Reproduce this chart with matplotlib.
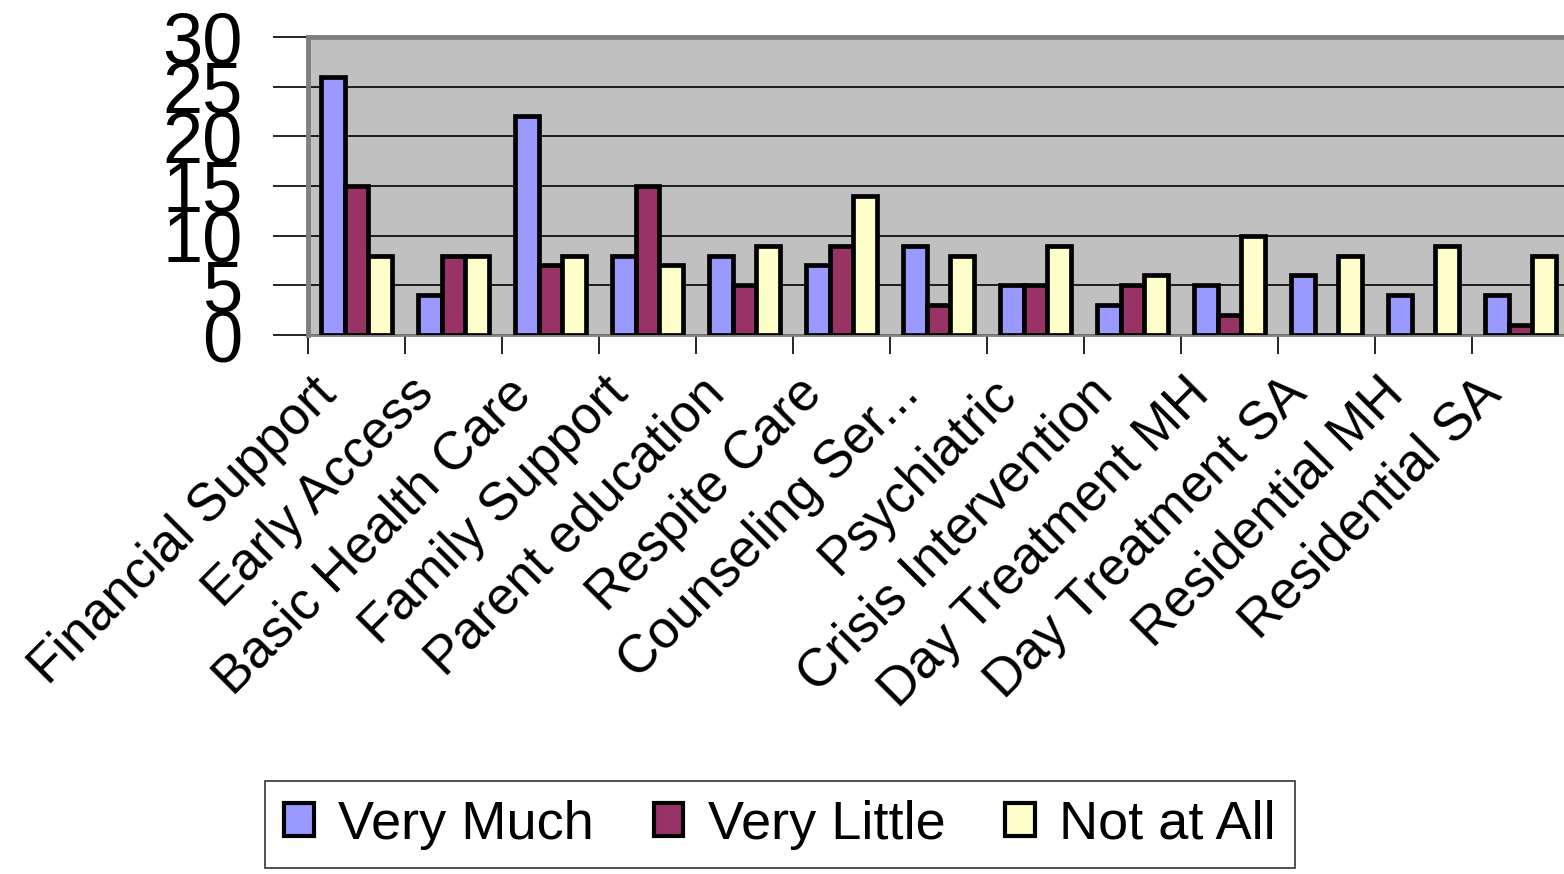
import numpy as np
import matplotlib
matplotlib.use("Agg")
import matplotlib.pyplot as plt
from matplotlib.transforms import ScaledTranslation

plt.rcParams['font.family'] = ['Liberation Sans', 'DejaVu Sans']

categories = ["Financial Support", "Early Access", "Basic Health Care", "Family Support",
              "Parent education", "Respite Care", "Counseling Ser...", "Psychiatric",
              "Crisis Intervention", "Day Treatment MH", "Day Treatment SA",
              "Residential MH", "Residential SA"]
very_much = [26, 4, 22, 8, 8, 7, 9, 5, 3, 5, 6, 4, 4]
very_little = [15, 8, 7, 15, 5, 9, 3, 5, 5, 2, 0, 0, 1]
not_at_all = [8, 8, 8, 7, 9, 14, 8, 9, 6, 10, 8, 9, 8]
yticks = [0, 5, 10, 15, 20, 25, 30]

series = [("Very Much", very_much, '#9999FF'),
          ("Very Little", very_little, '#993366'),
          ("Not at All", not_at_all, '#FFFFCC')]

fig = plt.figure(figsize=(15.64, 8.74), dpi=100)
ax = fig.add_axes([308/1564, 1 - 335/874, 1261/1564, 298/874])
ax.set_facecolor('#C0C0C0')

x = np.arange(len(categories))
w = 0.247
for i, (name, vals, col) in enumerate(series):
    ax.bar(x + (i - 1)*w, vals, w, color=col, edgecolor='black', linewidth=3.4,
           label=name, zorder=3)

ax.set_xlim(-0.5, len(categories) - 0.5)
ax.set_ylim(0, 30)
ax.set_yticks(yticks)
ax.set_yticklabels([str(v) for v in yticks], fontsize=52)
ax.tick_params(axis='y', length=25, width=1.2, color='black', pad=22)
ax.yaxis.grid(True, color='black', linewidth=1.2, zorder=1)

# category ticks sit on the group boundaries, labels at the group centres
ax.set_xticks(x)
ax.set_xticklabels(categories, fontsize=38, rotation=45, ha='right', va='top')
ax.set_xticks(np.arange(len(categories)) - 0.5, minor=True)
ax.tick_params(axis='x', which='major', length=0, pad=24)
ax.tick_params(axis='x', which='minor', length=14, width=1.2, color='black')
shift = ScaledTranslation(-10/100, 0, fig.dpi_scale_trans)
for lbl in ax.get_xticklabels():
    lbl.set_transform(lbl.get_transform() + shift)

for side in ('top', 'left'):
    ax.spines[side].set_color('#808080')
    ax.spines[side].set_linewidth(3.5)
ax.spines['bottom'].set_color('#808080')
ax.spines['bottom'].set_linewidth(2)
ax.spines['right'].set_visible(False)

leg = fig.legend(loc='center', bbox_to_anchor=(780/1564, 1 - 824.5/874), ncol=3,
                 fontsize=39, frameon=True, fancybox=False, edgecolor='black',
                 handlelength=0.55, handleheight=0.55, handletextpad=0.45,
                 columnspacing=1.1, borderpad=0.35)
leg.get_frame().set_linewidth(1.2)
for h in leg.legend_handles:
    h.set_linewidth(3.0)

fig.savefig('out.png', dpi=100)
